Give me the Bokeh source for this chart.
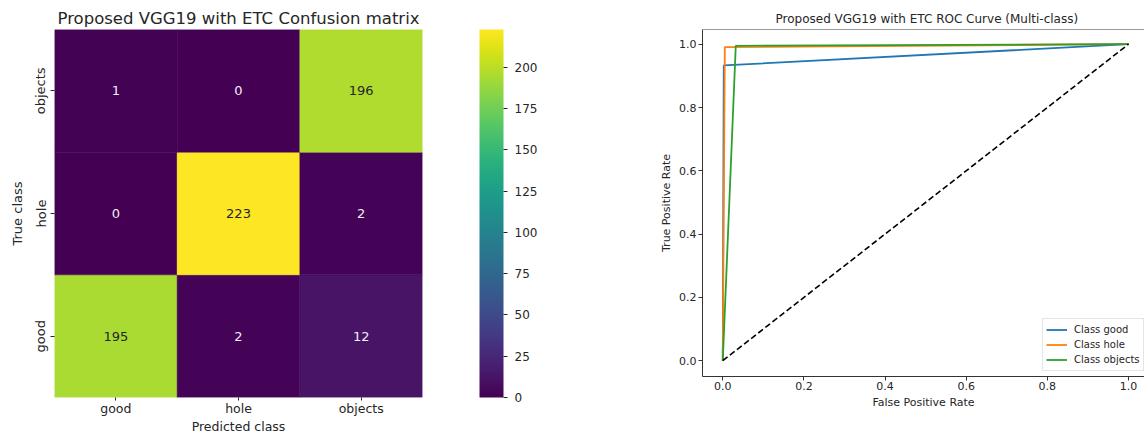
from bokeh.plotting import figure
from bokeh.layouts import row
from bokeh.models import (ColumnDataSource, LinearColorMapper, ColorBar, FixedTicker,
                          Range1d, Span, Legend, LegendItem, LinearAxis)
from bokeh.palettes import Viridis256
from bokeh.core.properties import value
from bokeh.embed import file_html
from bokeh.resources import INLINE

# ---------------- data ----------------
classes = ["good", "hole", "objects"]
# confusion matrix: rows = true class, columns = predicted class
cm_good = [195, 2, 12]
cm_hole = [0, 223, 2]
cm_objects = [1, 0, 196]
cm_max = 223
cb_ticks = [0, 25, 50, 75, 100, 125, 150, 175, 200]

roc_good_fpr = [0.0, 0.0024, 1.0]
roc_good_tpr = [0.0, 0.933, 1.0]
roc_hole_fpr = [0.0, 0.005, 1.0]
roc_hole_tpr = [0.0, 0.991, 1.0]
roc_obj_fpr = [0.0, 0.032, 1.0]
roc_obj_tpr = [0.0, 0.995, 1.0]
chance = [0.0, 1.0]
roc_ticks = [0.0, 0.2, 0.4, 0.6, 0.8, 1.0]
roc_tick_labels = ["0.0", "0.2", "0.4", "0.6", "0.8", "1.0"]

FONT = "DejaVu Sans"
TXT = "#262626"

# ---------------- confusion matrix ----------------
matrix = {"good": cm_good, "hole": cm_hole, "objects": cm_objects}
xs, ys, vals, labels, tcols = [], [], [], [], []
for ti, t in enumerate(classes):
    for pi, _pc in enumerate(classes):
        v = matrix[t][pi]
        xs.append(pi + 0.5)
        ys.append(ti + 0.5)
        vals.append(v)
        labels.append(str(v))
        tcols.append(TXT if v > 0.6 * cm_max else "#f2eef5")
src = ColumnDataSource(dict(x=xs, y=ys, v=vals, t=labels, c=tcols))

mapper = LinearColorMapper(palette=Viridis256, low=0, high=cm_max)

p1 = figure(frame_width=368, frame_height=368,
            x_range=Range1d(0, len(classes)), y_range=Range1d(0, len(classes)),
            output_backend="svg", toolbar_location=None,
            min_border_left=54, min_border_right=218,
            min_border_top=29, min_border_bottom=36)
p1.rect(x="x", y="y", width=1, height=1, source=src,
        fill_color={"field": "v", "transform": mapper},
        line_color={"field": "v", "transform": mapper}, line_width=0.5)
p1.text(x="x", y="y", text="t", text_color="c", source=src,
        text_align="center", text_baseline="middle",
        text_font=value(FONT), text_font_size="13px")

tick_pos = [i + 0.5 for i in range(len(classes))]
for ax in (p1.xaxis, p1.yaxis):
    ax.ticker = FixedTicker(ticks=tick_pos)
    ax.major_label_overrides = {tp: c for tp, c in zip(tick_pos, classes)}
    ax.axis_line_color = None
    ax.major_tick_in = 0
    ax.major_tick_out = 4
    ax.major_tick_line_color = TXT
    ax.minor_tick_line_color = None
    ax.major_label_text_font = FONT
    ax.major_label_text_font_size = "13px"
    ax.major_label_text_color = TXT
    ax.major_label_standoff = 2
    ax.axis_label_text_font = FONT
    ax.axis_label_text_font_size = "13px"
    ax.axis_label_text_font_style = "normal"
    ax.axis_label_text_color = TXT
p1.xaxis.major_tick_out = 3
p1.xaxis.major_label_text_font_size = "12.5px"
p1.xaxis.major_label_standoff = 0
p1.xaxis.axis_label = "Predicted class"
p1.xaxis.axis_label_text_font_size = "12.5px"
p1.xaxis.axis_label_standoff = 0
p1.yaxis.major_label_orientation = "vertical"
p1.yaxis.axis_label = "True class"
p1.yaxis.axis_label_standoff = 6
p1.xgrid.visible = False
p1.ygrid.visible = False
p1.outline_line_color = None

p1.title.text = "Proposed VGG19 with ETC Confusion matrix"
p1.title.align = "center"
p1.title.text_font = FONT
p1.title.text_font_size = "16.5px"
p1.title.text_font_style = "normal"
p1.title.text_color = TXT
p1.title.standoff = 4

# invisible spacer between the matrix and its colour bar
spacer = LinearAxis(ticker=FixedTicker(ticks=[tick_pos[1]]), axis_line_color=None,
                    major_tick_line_color=None, minor_tick_line_color=None,
                    major_tick_out=57, major_tick_in=0,
                    major_label_standoff=0, axis_label_standoff=0,
                    major_label_overrides={tick_pos[1]: ""},
                    major_label_text_alpha=0, major_label_text_font_size="1px")
p1.add_layout(spacer, "right")

cb = ColorBar(color_mapper=mapper, width=24, padding=0, margin=0,
              ticker=FixedTicker(ticks=cb_ticks),
              major_tick_in=0, major_tick_out=4, major_tick_line_color=TXT,
              label_standoff=7, major_label_text_font=FONT,
              major_label_text_font_size="12px", major_label_text_color=TXT,
              bar_line_color=None, background_fill_alpha=0, border_line_color=None)
p1.add_layout(cb, "right")

# ---------------- ROC ----------------
# (frames in a row share the same top border, so the top of the y range is set
#  to keep 0.0 and 1.0 at the reference positions)
y_lo, y_hi = -0.05, 1.0465
p2 = figure(frame_width=442, frame_height=347,
            x_range=Range1d(-0.05, 1.0394), y_range=Range1d(y_lo, y_hi),
            output_backend="svg", toolbar_location=None,
            min_border_left=62, min_border_right=0,
            min_border_top=29, min_border_bottom=36)
p2.outline_line_color = None
p2.xgrid.visible = False
p2.ygrid.visible = False
p2.add_layout(Span(location=y_hi, dimension="width", line_color="#333333", line_width=1))

r_good = p2.line(roc_good_fpr, roc_good_tpr, line_color="#1f77b4", line_width=1.8)
r_hole = p2.line(roc_hole_fpr, roc_hole_tpr, line_color="#ff7f0e", line_width=1.8)
r_obj = p2.line(roc_obj_fpr, roc_obj_tpr, line_color="#2ca02c", line_width=1.8)
p2.line(chance, chance, line_color="black", line_dash="6 3", line_width=1.6)

for ax, lab in ((p2.xaxis, "False Positive Rate"), (p2.yaxis, "True Positive Rate")):
    ax.ticker = FixedTicker(ticks=roc_ticks)
    ax.major_label_overrides = {tk: tl for tk, tl in zip(roc_ticks, roc_tick_labels)}
    ax.axis_line_color = "#333333"
    ax.major_tick_in = 0
    ax.major_tick_out = 4
    ax.major_tick_line_color = "#333333"
    ax.minor_tick_line_color = None
    ax.major_label_text_font = FONT
    ax.major_label_text_font_size = "11px"
    ax.major_label_text_color = TXT
    ax.major_label_standoff = 2
    ax.axis_label = lab
    ax.axis_label_text_font = FONT
    ax.axis_label_text_font_size = "11px"
    ax.axis_label_text_font_style = "normal"
    ax.axis_label_text_color = TXT
    ax.axis_label_standoff = 3
p2.xaxis.major_label_standoff = 1

p2.title.text = "Proposed VGG19 with ETC ROC Curve (Multi-class)"
p2.title.align = "left"
p2.title.offset = 73
p2.title.text_font = FONT
p2.title.text_font_size = "12px"
p2.title.text_font_style = "normal"
p2.title.text_color = TXT
p2.title.standoff = 7

legend = Legend(items=[LegendItem(label="Class good", renderers=[r_good]),
                       LegendItem(label="Class hole", renderers=[r_hole]),
                       LegendItem(label="Class objects", renderers=[r_obj])],
                location=(340, 5), margin=0, padding=3, spacing=0,
                glyph_width=21, glyph_height=15, label_height=15, label_standoff=7,
                label_text_font=FONT, label_text_font_size="10px", label_text_color=TXT,
                border_line_color="#cccccc", background_fill_alpha=0.85)
p2.add_layout(legend)

layout = row(p1, p2)
open("out.html", "w").write(file_html(layout, INLINE))
